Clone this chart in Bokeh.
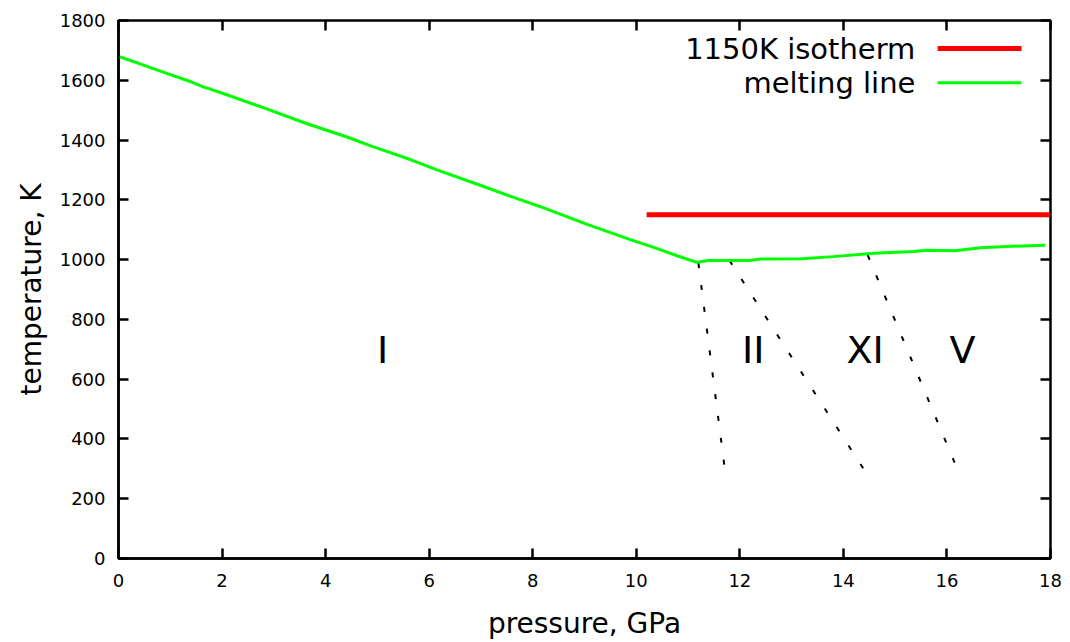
from bokeh.plotting import figure
from bokeh.models import LinearAxis, FixedTicker, Label, Range1d, CustomLabelingPolicy
from bokeh.core.properties import value
from bokeh.embed import file_html
from bokeh.resources import INLINE

FONT = "DejaVu Sans"

# ---- data ----
melt_p = [0, 0.4, 0.85, 1.4, 1.65, 1.8, 2.05, 2.85, 3.6, 4.4, 4.9, 5.65, 6.15, 7.0,
          7.7, 8.15, 9.05, 9.9, 10.35, 10.8, 11.17, 11.4, 12.2, 12.4, 13.2, 13.8,
          14.6, 15.35, 15.6, 16.15, 16.65, 17.15, 17.9]
melt_t = [1680, 1656, 1628, 1595, 1577, 1569, 1554, 1505, 1457, 1411, 1379, 1334,
          1300, 1248, 1204, 1177, 1118, 1066, 1040, 1012, 991, 997, 997, 1002, 1003,
          1010, 1021, 1027, 1031, 1030, 1040, 1044, 1048]

iso_p = [10.2, 18.0]
iso_t = [1150, 1150]

# phase boundaries (top -> bottom)
b1_p = [11.2, 11.7]
b1_t = [988, 312]
b2_p = [11.8, 14.4]
b2_t = [997, 297]
b3_p = [14.47, 16.15]
b3_t = [1015, 320]

phase_names = ["I", "II", "XI", "V"]
phase_p = [5.1, 12.26, 14.42, 16.3]
phase_t = [697, 697, 697, 697]

x_ticks = [0, 2, 4, 6, 8, 10, 12, 14, 16, 18]
y_ticks = [0, 200, 400, 600, 800, 1000, 1200, 1400, 1600, 1800]

legend_labels = ["1150K isotherm", "melting line"]

# ---- figure ----
p = figure(width=1070, height=642, output_backend="svg", toolbar_location=None,
           x_range=Range1d(0, 18), y_range=Range1d(0, 1800),
           min_border_left=118, min_border_right=20, min_border_top=20,
           min_border_bottom=84)
p.grid.visible = False
p.outline_line_color = "black"
p.outline_line_width = 2.5
p.background_fill_color = "white"
p.border_fill_color = "white"

xa = p.xaxis[0]
ya = p.yaxis[0]
for ax, ticks in ((xa, x_ticks), (ya, y_ticks)):
    ax.major_tick_in = 10
    ax.major_tick_out = 0
    ax.minor_tick_line_color = None
    ax.major_tick_line_width = 2.5
    ax.axis_line_width = 2.5
    ax.major_label_text_font = FONT
    ax.major_label_text_color = "black"
    ax.major_label_text_font_size = "18px"
    ax.ticker = FixedTicker(ticks=ticks)
    ax.axis_label_text_font = FONT
    ax.axis_label_text_font_size = "28px"
    ax.axis_label_text_font_style = "normal"
    ax.axis_label_text_color = "black"
xa.axis_label = "pressure, GPa"
ya.axis_label = "temperature, K"
xa.major_label_standoff = 15
ya.major_label_standoff = 13
xa.axis_label_standoff = 17
ya.axis_label_standoff = 9

# mirrored ticks on top and right (no labels)
def hide_all():
    return CustomLabelingPolicy(code="""
        const all = [...indices]
        for (const i of all) indices.unset(i)
        return indices
    """)

top = LinearAxis(ticker=FixedTicker(ticks=x_ticks), major_tick_in=10, major_tick_out=0,
                 minor_tick_line_color=None, major_tick_line_width=2.5,
                 axis_line_color=None, major_label_policy=hide_all(),
                 major_label_text_font_size="1px", major_label_standoff=0)
right = LinearAxis(ticker=FixedTicker(ticks=y_ticks), major_tick_in=10, major_tick_out=0,
                   minor_tick_line_color=None, major_tick_line_width=2.5,
                   axis_line_color=None, major_label_policy=hide_all(),
                   major_label_text_font_size="1px", major_label_standoff=0)
p.add_layout(top, "above")
p.add_layout(right, "right")

# phase boundaries
for bp, bt in ((b1_p, b1_t), (b2_p, b2_t), (b3_p, b3_t)):
    p.line(bp, bt, line_color="black", line_width=2, line_dash="5 17")

# isotherm and melting line
p.line(iso_p, iso_t, line_color="#ff0000", line_width=5)
p.line(melt_p, melt_t, line_color="#00ff00", line_width=3)

# phase labels
p.text(x=phase_p, y=phase_t, text=phase_names, text_font=value(FONT),
       text_font_size="38px", text_align="center", text_baseline="middle",
       text_color="black")

# legend (gnuplot style: text then sample)
leg_text_x = 15.39
leg_line_x = [15.82, 17.44]
leg_y = [1706, 1592]
leg_colors = ["#ff0000", "#00ff00"]
leg_widths = [5, 3]
for lab, yy, col, lw in zip(legend_labels, leg_y, leg_colors, leg_widths):
    p.add_layout(Label(x=leg_text_x, y=yy, text=lab, text_align="right",
                       text_baseline="middle", text_font=FONT,
                       text_font_size="29px", text_color="black"))
    p.line(leg_line_x, [yy, yy], line_color=col, line_width=lw)

open("out.html", "w").write(file_html(p, INLINE))
